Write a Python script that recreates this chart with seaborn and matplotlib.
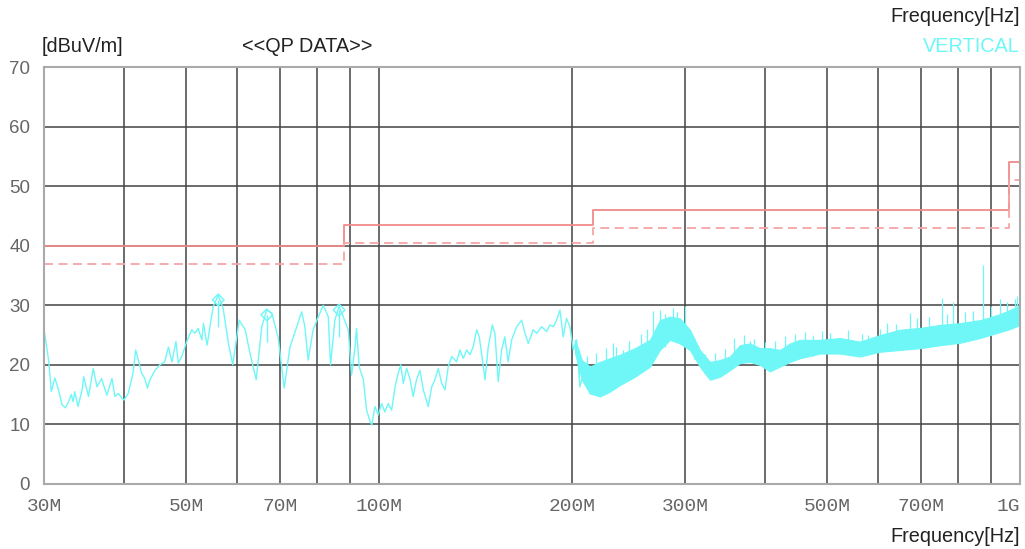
import numpy as np
import pandas as pd
import matplotlib
matplotlib.use("Agg")
import matplotlib.pyplot as plt
import seaborn as sns

# QP scan, 30M - ~215M (MHz, dBuV/m)
scan_freq = [30.0, 30.5, 30.8, 31.2, 31.6, 32.0, 32.4, 32.7, 33.1, 33.3, 33.5, 33.9, 34.4, 34.6, 35.2,
             35.8, 36.3, 36.9, 37.6, 38.3, 38.7, 39.2, 39.7, 40.0, 40.6, 41.3, 41.7, 42.1, 42.6, 43.1,
             43.5, 43.9, 44.7, 45.5, 46.3, 46.9, 47.5, 48.2, 48.6, 49.2, 50.1, 51.0, 51.6, 52.2, 52.9,
             53.2, 53.9, 55.1, 56.1, 57.1, 58.2, 59.1, 60.5, 61.8, 62.9, 64.3, 65.6, 66.8, 68.0, 69.6,
             71.1, 72.6, 74.4, 75.7, 76.6, 77.5, 78.9, 80.4, 81.8, 83.3, 84.0, 85.3, 86.6, 87.9, 89.5,
             90.6, 91.7, 92.2, 93.1, 94.5, 95.6, 96.8, 97.4, 98.5, 99.7, 100.9, 102.1, 103.3, 104.6, 105.9,
             107.1, 108.1, 109.1, 110.4, 111.7, 113.0, 114.4, 115.8, 117.2, 119.3, 120.8, 122.2, 123.7, 125.2, 126.7,
             128.2, 129.8, 132.1, 133.7, 135.3, 137.0, 138.6, 140.2, 142.0, 143.3, 144.5, 146.3, 148.0, 150.2, 151.6,
             153.4, 155.3, 157.1, 159.0, 161.0, 163.9, 166.9, 168.9, 170.9, 174.0, 176.1, 179.3, 182.5, 184.7, 186.9,
             189.2, 191.5, 193.8, 196.1, 198.5, 200.9, 203.3, 205.7, 209.5, 213.3]
scan_level = [26.0, 20.8, 15.5, 17.8, 15.8, 13.3, 12.8, 13.6, 15.0, 13.8, 15.5, 13.0, 15.8, 18.0, 14.7,
              19.4, 16.3, 17.7, 14.9, 17.7, 14.7, 15.2, 14.4, 14.1, 15.2, 18.6, 22.5, 20.8, 18.6, 17.7,
              16.1, 17.5, 19.1, 20.0, 20.5, 23.0, 20.5, 23.9, 20.3, 21.4, 23.9, 25.9, 25.3, 26.1, 24.2,
              27.0, 23.3, 29.8, 31.7, 29.5, 23.6, 20.0, 27.5, 25.9, 21.9, 17.5, 26.4, 29.2, 28.7, 24.5,
              16.1, 23.0, 26.4, 28.9, 26.4, 20.8, 25.9, 28.1, 30.0, 28.1, 20.0, 27.5, 29.8, 28.1, 25.9,
              18.3, 23.0, 26.1, 19.7, 17.5, 12.4, 10.5, 9.9, 13.0, 11.6, 13.5, 12.1, 13.5, 12.4, 16.3,
              18.6, 20.0, 16.9, 19.4, 17.7, 14.7, 17.5, 19.1, 15.8, 13.0, 16.3, 17.5, 19.4, 16.9, 15.8,
              19.7, 21.4, 20.5, 22.5, 21.1, 22.5, 21.7, 23.0, 25.9, 24.7, 21.9, 17.5, 23.0, 26.7, 25.3,
              17.2, 22.5, 24.7, 20.5, 24.2, 26.4, 27.5, 25.3, 23.6, 25.9, 25.3, 26.4, 25.6, 26.7, 26.4,
              27.5, 29.2, 24.7, 27.8, 26.4, 22.5, 24.2, 16.3, 19.7, 15.2]

# dense noise region above ~200M: upper / lower envelope
band_freq = [202.1, 207.2, 213.3, 221.1, 229.1, 237.5, 250.7, 264.6, 274.2, 284.2, 294.6, 305.4, 316.6,
             328.2, 340.2, 352.6, 365.5, 378.9, 392.8, 407.1, 422.0, 437.5, 453.5, 487.3, 523.6, 562.6,
             604.5, 649.6, 698.0, 749.8, 805.6, 865.7, 930.2, 964.2, 999.4]
band_upper = [24.2, 20.8, 19.7, 20.5, 21.1, 21.7, 22.8, 24.2, 27.5, 28.1, 27.8, 25.9, 22.5,
              20.5, 20.8, 21.4, 23.3, 23.6, 22.8, 22.8, 22.5, 23.6, 24.2, 24.2, 24.5, 23.9,
              25.0, 25.9, 26.2, 26.7, 27.0, 27.5, 28.5, 29.2, 30.0]
band_lower = [22.0, 17.5, 15.2, 14.7, 15.5, 16.6, 18.0, 19.7, 22.5, 24.2, 23.6, 22.5, 19.7,
              17.5, 18.0, 19.1, 20.3, 20.5, 20.0, 18.9, 19.7, 20.5, 21.1, 21.9, 21.9, 21.4,
              22.2, 22.5, 22.8, 23.3, 23.7, 24.5, 25.5, 26.0, 26.7]

# single spikes sticking out of the noise band
spike_freq = [205, 211, 218, 226, 231.6, 234, 240.1, 245, 256, 262, 268, 274.2, 279.2, 287, 292,
              299.8, 310, 322, 334, 346, 358, 371, 378.9, 385, 400, 415, 430, 445, 462, 475,
              490.8, 505, 540, 566.5, 580, 604.5, 620, 640, 673.1, 690, 720, 755.0, 770, 785.6,
              820, 845, 875.1, 900, 930.2, 955, 981.6, 990]
spike_base = [18.0, 16.0, 15.5, 16.0, 17.0, 16.5, 17.5, 17.5, 19.0, 19.5, 22.0, 23.0, 23.0, 24.0, 24.0,
              24.0, 21.0, 18.5, 18.5, 19.5, 20.0, 20.5, 21.0, 20.5, 20.0, 19.5, 20.0, 21.0, 21.5, 21.5,
              22.0, 22.0, 22.0, 22.0, 22.0, 22.5, 22.5, 22.5, 23.0, 23.0, 23.0, 24.0, 24.0, 24.0,
              24.0, 24.5, 25.0, 25.0, 26.0, 26.0, 27.0, 27.0]
spike_top = [22.5, 21.5, 22.0, 22.8, 23.7, 23.0, 22.5, 24.0, 25.2, 26.0, 29.0, 29.2, 28.5, 29.5, 28.9,
             29.8, 24.5, 21.8, 22.0, 22.6, 24.5, 25.0, 24.0, 24.4, 23.9, 24.0, 24.8, 25.2, 25.5, 24.9,
             25.6, 25.3, 25.8, 25.2, 25.0, 26.0, 27.0, 26.9, 28.7, 27.8, 28.0, 31.2, 28.5, 30.6,
             28.9, 29.0, 36.8, 29.8, 31.0, 30.5, 31.0, 31.5]

# QP markers
qp_freq = [56.1, 66.8, 86.6]
qp_level = [30.9, 28.4, 29.2]

# limit lines (steps)
lim_freq = [30, 88, 216, 960, 1000]
lim_level = [40, 43.5, 46, 54, 54]
margin_level = [37, 40.5, 43, 51, 51]

grid_x = [30, 40, 50, 60, 70, 80, 90, 100, 200, 300, 400, 500, 600, 700, 800, 900, 1000]
xtick_text = {30: "30M", 50: "50M", 70: "70M", 100: "100M", 200: "200M", 300: "300M",
              500: "500M", 700: "700M", 1000: "1G"}

sns.set_style("white")
plt.rcParams['font.family'] = ['Liberation Sans', 'DejaVu Sans']

fig = plt.figure(figsize=(10.25, 5.49), dpi=100)
ax = fig.add_axes([44 / 1025, 1 - 484 / 549, 976 / 1025, 417 / 549])

cyan = "#6ff7f7"
red = "#f08a8a"

trace = pd.DataFrame({"freq": scan_freq, "level": scan_level})
sns.lineplot(data=trace, x="freq", y="level", sort=False, estimator=None,
             color=cyan, linewidth=1.0, ax=ax)
ax.vlines(spike_freq, spike_base, spike_top, color=cyan, linewidth=0.9)
ax.fill_between(band_freq, band_lower, band_upper, color=cyan, linewidth=0.8, edgecolor=cyan)

lim = pd.DataFrame({"freq": lim_freq, "limit": lim_level, "margin": margin_level})
sns.lineplot(data=lim, x="freq", y="limit", drawstyle="steps-post", color=red,
             linewidth=1.3, ax=ax)
sns.lineplot(data=lim, x="freq", y="margin", drawstyle="steps-post", color="#f5a5a5",
             linewidth=1.3, linestyle=(0, (5, 3)), ax=ax)

ax.scatter(qp_freq, qp_level, marker="D", s=36, facecolors="none", edgecolors=cyan, linewidths=1.0, zorder=3)
ax.vlines(qp_freq, np.array(qp_level) - 4.5, qp_level, color=cyan, linewidth=1.0)

ax.set_xscale("log")
ax.set_xlim(30, 1000)
ax.set_ylim(0, 70)
ax.set_xticks(grid_x)
ax.set_xticklabels([xtick_text.get(v, "") for v in grid_x], family="Liberation Mono",
                   fontsize=14, color="#666666")
ax.xaxis.set_minor_locator(matplotlib.ticker.NullLocator())
ax.set_yticks(range(0, 71, 10))
ax.set_yticklabels([str(v) for v in range(0, 71, 10)], fontsize=13.5, color="#666666")
ax.tick_params(axis="y", length=0, pad=10)
ax.tick_params(axis="x", length=0, pad=10)
lbls = ax.get_xticklabels()
lbls[-1].set_ha("right")
ax.grid(True, color="#444444", linewidth=1.3, alpha=0.85)
ax.set_xlabel("")
ax.set_ylabel("")
for s in ax.spines.values():
    s.set_color("#aaaaaa")
    s.set_linewidth(1.5)

fs = 14.3
fig.text(42 / 1025, 1 - 47 / 549, "[dBuV/m]", fontsize=fs, color="#222222", va="center")
fig.text(242 / 1025, 1 - 47 / 549, "<<QP DATA>>", fontsize=fs, color="#222222", va="center")
fig.text(1020 / 1025, 1 - 16 / 549, "Frequency[Hz]", fontsize=fs, color="#222222", va="center", ha="right")
fig.text(1020 / 1025, 1 - 47 / 549, "VERTICAL", fontsize=fs, color=cyan, va="center", ha="right")
fig.text(1020 / 1025, 1 - 537 / 549, "Frequency[Hz]", fontsize=fs, color="#222222", va="center", ha="right")

fig.savefig("out.png", dpi=100)
